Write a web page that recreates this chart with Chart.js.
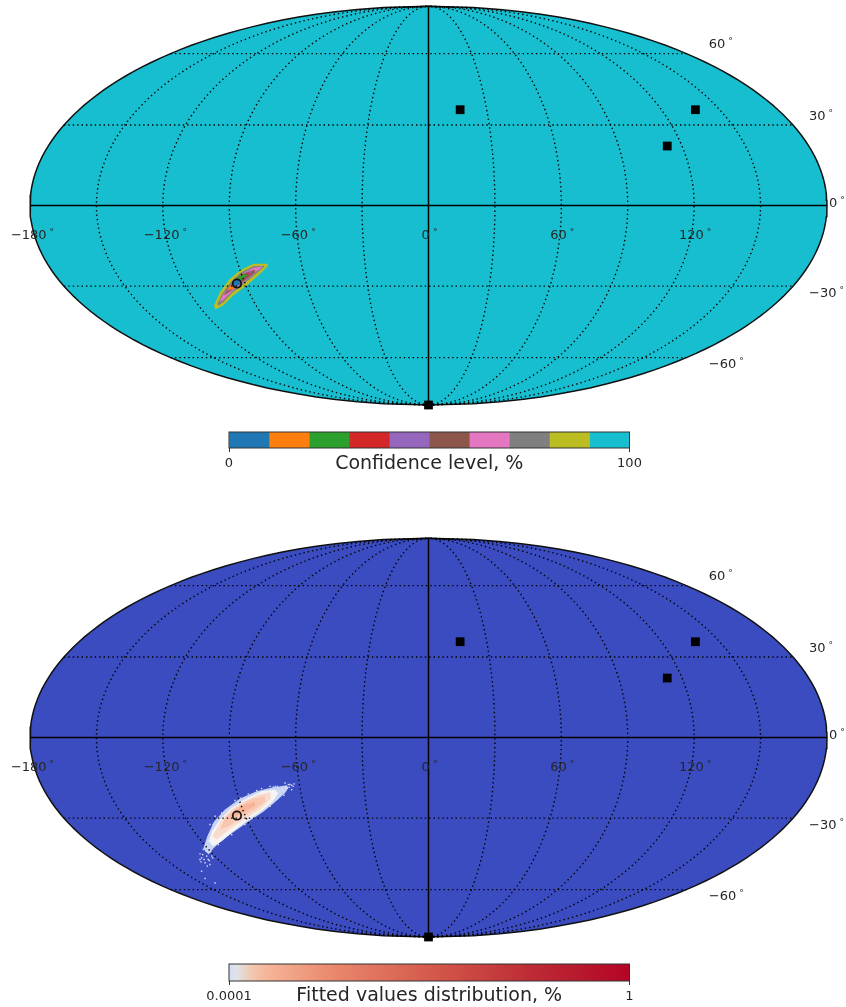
<!DOCTYPE html>
<html>
<head>
<meta charset="utf-8">
<title>Sky maps</title>
<script src="https://cdn.jsdelivr.net/npm/chart.js@4"></script>
<style>
  body { margin: 0; background: #fff; width: 846px; height: 1007px; overflow: hidden; position: relative; }
  canvas { position: absolute; left: 0; }
</style>
</head>
<body>
<canvas id="mapTop" width="846" height="425" style="top:0"></canvas>
<canvas id="barTop" width="846" height="50" style="top:425px"></canvas>
<canvas id="mapBottom" width="846" height="425" style="top:532px"></canvas>
<canvas id="barBottom" width="846" height="50" style="top:957px"></canvas>
<script>
const lonTicks = [-180, -120, -60, 0, 60, 120];
const latTicks = [60, 30, 0, -30, -60];
const gridLons = [-150, -120, -90, -60, -30, 30, 60, 90, 120, 150];
const gridLats = [60, 30, -30, -60];

// marked positions, lon / lat in degrees
const squareLons = [16.3, 137.5, 113, 0];
const squareLats = [36, 36, 22, -90];
const circleLons = [-94];
const circleLats = [-29];

const confidenceColors = ["#1f77b4", "#ff7f0e", "#2ca02c", "#d62728", "#9467bd", "#8c564b", "#e377c2", "#7f7f7f", "#bcbd22", "#17becf"];
const confidenceSteps = [10, 10, 10, 10, 10, 10, 10, 10, 10, 10];
const fittedStops = [0, 0.02, 0.05, 0.09, 0.25, 0.5, 0.75, 1];
const fittedStopColors = ["#d5e0f2", "#e0e2e8", "#eeccb8", "#f6b69a", "#ea8a6e", "#d55a4c", "#bd2c35", "#b40426"];

// contours, in projected map units [x, y]
const levelOlive = [[-72.6,-26.2],[-79.1,-26.2],[-85.1,-29.2],[-90.0,-33.4],[-94.2,-39.1],[-96.9,-45.1],[-96.3,-46.9],[-92.7,-45.1],[-88.2,-40.6],[-82.1,-36.1],[-76.4,-31.1],[-72.6,-27.4]];
const levelGray = [[-74.3,-27.1],[-79.1,-27.4],[-84.7,-30.2],[-89.1,-34.3],[-93.1,-39.7],[-95.4,-44.4],[-94.8,-45.1],[-92.7,-43.6],[-88.8,-39.4],[-82.9,-34.9],[-77.5,-30.4],[-74.0,-27.4]];
const levelPink = [[-75.2,-27.5],[-79.1,-28.0],[-84.2,-30.8],[-88.6,-34.9],[-92.7,-40.0],[-94.5,-43.6],[-92.8,-42.7],[-89.1,-39.0],[-83.2,-34.3],[-77.9,-29.9],[-75.0,-27.8]];
const levelBrown = [[-78.4,-28.9],[-82.9,-30.4],[-87.4,-33.4],[-91.2,-38.2],[-92.4,-40.6],[-88.9,-38.2],[-82.9,-33.7],[-78.4,-30.1]];
const levelPurple = [[-79.9,-29.2],[-83.6,-30.7],[-87.4,-33.7],[-90.7,-37.9],[-91.5,-39.4],[-88.9,-37.3],[-83.6,-33.1],[-79.9,-30.1]];
const levelRed = [[-80.9,-30.1],[-84.4,-31.1],[-87.9,-33.7],[-90.4,-37.9],[-88.9,-37.6],[-84.4,-33.7],[-80.9,-30.7]];
const levelOrange = [[-88.2,-34.9],[-90.4,-37.2],[-90.9,-38.2],[-88.2,-37.6],[-85.1,-34.9],[-85.9,-33.7]];
const levelGreen = [[-82.1,-30.7],[-85.1,-31.6],[-88.2,-34.1],[-89.4,-36.4],[-85.9,-34.9],[-82.1,-31.6]];
const levelBlue = [[-85.1,-33.4],[-87.4,-33.7],[-88.5,-35.2],[-87.4,-36.7],[-85.1,-35.6],[-84.4,-34.1]];

const fittedEdge = [[-64.0,-21.5],[-71.6,-22.7],[-77.6,-24.2],[-85.1,-27.5],[-91.9,-32.5],[-96.9,-38.0],[-99.9,-44.5],[-101.7,-50.1],[-99.4,-52.8],[-97.2,-50.1],[-93.4,-46.5],[-88.2,-42.7],[-81.4,-38.0],[-74.3,-33.2],[-69.8,-29.5],[-64.8,-25.0],[-63.3,-22.7]];
const fittedWhite = [[-69.3,-23.5],[-75.4,-24.2],[-82.9,-27.8],[-89.7,-32.3],[-94.2,-37.0],[-97.8,-42.3],[-99.3,-46.8],[-97.2,-49.0],[-93.4,-46.8],[-88.2,-42.3],[-81.8,-37.4],[-75.5,-33.2],[-70.4,-29.0],[-67.8,-25.0]];
const fittedPeach = [[-71.6,-24.5],[-77.6,-26.0],[-83.6,-29.0],[-90.0,-33.2],[-94.5,-38.5],[-97.5,-44.5],[-95.7,-46.0],[-88.9,-40.7],[-82.1,-36.2],[-75.8,-32.2],[-71.1,-27.5]];
const fittedSalmon = [[-73.8,-26.2],[-80.6,-28.0],[-86.7,-31.7],[-91.9,-36.2],[-94.2,-41.5],[-90.0,-40.0],[-84.4,-35.8],[-78.4,-32.5],[-73.8,-29.0]];
const fittedCore = [[-78.4,-29.0],[-83.6,-30.5],[-88.9,-34.0],[-90.4,-37.0],[-85.1,-34.4],[-78.4,-31.0]];
const fittedSpeckles = [[-103.2,-55.0],[-102.0,-52.8],[-100.9,-56.5],[-99.5,-55.0],[-100.5,-51.3],[-102.5,-60.3],[-96.4,-65.6],[-100.9,-63.6],[-98.7,-57.3],[-97.9,-53.5],[-62.6,-21.2],[-61.1,-22.0],[-64.1,-22.7],[-66.3,-23.5],[-68.3,-22.0],[-70.1,-22.4],[-73.8,-23.9],[-64.8,-20.5],[-61.8,-23.5],[-67.1,-25.7],[-80.9,-27.2],[-88.9,-31.7],[-97.2,-39.2],[-99.5,-46.8],[-101.7,-50.5],[-93.4,-34.0],[-77.6,-23.9],[-85.1,-27.2],[-102.5,-54.3],[-100.2,-53.5],[-99.0,-55.5],[-101.4,-55.0],[-102.8,-56.1],[-99.9,-58.0],[-97.5,-54.3],[-103.2,-52.5],[-98.4,-51.6],[-62.9,-22.4],[-65.6,-23.9],[-67.4,-24.2],[-63.3,-21.2],[-60.7,-20.9],[-69.3,-22.0],[-71.6,-22.0],[-75.4,-23.0],[-61.8,-21.5],[-65.3,-26.0],[-68.3,-27.5],[-71.6,-31.0],[-76.9,-34.4],[-82.9,-39.2],[-88.9,-43.8],[-94.9,-48.3],[-98.7,-39.2],[-96.4,-35.5],[-87.4,-28.4],[-81.4,-25.4]];

function mollweide(lon, lat) {
  const phi = (lat * Math.PI) / 180;
  let theta = phi;
  if (Math.abs(lat) !== 90) {
    for (let i = 0; i < 30; i++) {
      theta -= (2 * theta + Math.sin(2 * theta) - Math.PI * Math.sin(phi)) / (2 + 2 * Math.cos(2 * theta));
    }
  }
  return { x: lon * Math.cos(theta), y: 90 * Math.sin(theta) };
}

function meridian(lon) {
  const pts = [];
  for (let lat = -90; lat <= 90; lat += 2) pts.push(mollweide(lon, lat));
  return pts;
}

function parallel(lat) {
  return [mollweide(-180, lat), mollweide(180, lat)];
}

function outline() {
  return meridian(180).concat(meridian(-180).reverse());
}

function polygon(points, color) {
  return {
    data: points.map((p) => ({ x: p[0], y: p[1] })),
    showLine: true,
    fill: "shape",
    backgroundColor: color,
    borderWidth: 0,
    pointRadius: 0,
    clip: false,
  };
}

function gridLine(points, solid) {
  return {
    data: points,
    showLine: true,
    fill: false,
    borderColor: "#000",
    borderWidth: solid ? 1.5 : 1.4,
    borderDash: solid ? [] : [1.4, 3],
    pointRadius: 0,
    clip: false,
  };
}

function markers(lons, lats, style) {
  return Object.assign(
    { data: lons.map((lon, i) => mollweide(lon, lats[i])), showLine: false, clip: false },
    style
  );
}

function mapDatasets(fillColor, blobs) {
  const sets = [];
  sets.push({
    data: outline(),
    showLine: true,
    fill: "shape",
    backgroundColor: fillColor,
    borderColor: "#111",
    borderWidth: 1.5,
    pointRadius: 0,
    clip: false,
  });
  blobs.forEach((b) => sets.push(b));
  gridLons.forEach((lon) => sets.push(gridLine(meridian(lon), false)));
  gridLats.forEach((lat) => sets.push(gridLine(parallel(lat), false)));
  sets.push(gridLine(meridian(0), true));
  sets.push(gridLine(parallel(0), true));
  sets.push(markers(squareLons, squareLats, {
    pointStyle: "rect", pointRadius: 6.2, pointBackgroundColor: "#000", pointBorderWidth: 0,
  }));
  sets.push(markers(circleLons, circleLats, {
    pointStyle: "circle", pointRadius: 4.2, pointBackgroundColor: "rgba(0,0,0,0)", pointBorderColor: "#111", pointBorderWidth: 1.7,
  }));
  // first dataset is painted last in Chart.js
  return sets.reverse();
}

function degreeLabel(ctx, text, x, y, centered) {
  ctx.font = "13px 'DejaVu Sans'";
  const w = ctx.measureText(text).width;
  ctx.font = "9px 'DejaVu Sans'";
  const dw = ctx.measureText("°").width;
  const left = centered ? x - (w + 3 + dw) / 2 : x;
  ctx.textAlign = "left";
  ctx.textBaseline = "middle";
  ctx.font = "13px 'DejaVu Sans'";
  ctx.fillText(text, left, y);
  ctx.font = "9px 'DejaVu Sans'";
  ctx.fillText("°", left + w + 3, y - 3);
}

function labelText(v) {
  return v < 0 ? "\u2212" + Math.abs(v) : String(v);
}

const degreeLabels = {
  id: "degreeLabels",
  afterDraw(chart) {
    const { ctx, scales } = chart;
    ctx.save();
    ctx.fillStyle = "#262626";
    lonTicks.forEach((lon) => {
      const dx = lon < 0 ? 2.5 : 1;
      degreeLabel(ctx, labelText(lon), scales.x.getPixelForValue(lon) + dx, scales.y.getPixelForValue(0) + 30, true);
    });
    latTicks.forEach((lat) => {
      const p = mollweide(180, lat);
      const abs = Math.abs(lat);
      const dx = abs === 60 ? 22.4 : abs === 30 ? 16 : 2;
      const dy = lat > 0 ? -8.5 : lat < 0 ? 7.5 : -2;
      degreeLabel(ctx, labelText(lat), scales.x.getPixelForValue(p.x) + dx, scales.y.getPixelForValue(p.y) + dy, false);
    });
    ctx.restore();
  },
};

function drawMap(id, datasets) {
  new Chart(document.getElementById(id), {
    type: "scatter",
    data: { datasets: datasets },
    options: {
      responsive: false,
      animation: false,
      devicePixelRatio: 1,
      layout: { padding: { left: 30, right: 19, top: 6, bottom: 20 } },
      plugins: { legend: { display: false }, tooltip: { enabled: false } },
      scales: {
        x: { type: "linear", min: -180, max: 180, display: false },
        y: { type: "linear", min: -90, max: 90, display: false },
      },
    },
    plugins: [degreeLabels],
  });
}

const barFrame = {
  id: "barFrame",
  afterDraw(chart) {
    const a = chart.chartArea;
    const c = chart.ctx;
    c.save();
    c.strokeStyle = "#333";
    c.lineWidth = 1;
    c.strokeRect(a.left, a.top, a.right - a.left, a.bottom - a.top);
    c.restore();
  },
};

function barOptions(xScale, title, tickValues, axisHeight) {
  return {
    indexAxis: "y",
    responsive: false,
    animation: false,
    devicePixelRatio: 1,
    layout: { padding: { left: 229, right: 216.5, top: 7, bottom: 0 } },
    plugins: { legend: { display: false }, tooltip: { enabled: false } },
    scales: {
      x: Object.assign(xScale, {
        afterBuildTicks: (s) => { s.ticks = tickValues.map((v) => ({ value: v })); },
        afterFit: (s) => { s.height = axisHeight; },
        border: { display: false },
        grid: { drawOnChartArea: false, color: "#333", tickLength: 4 },
        ticks: {
          autoSkip: false,
          maxRotation: 0,
          padding: 4,
          color: "#262626",
          font: { family: "DejaVu Sans", size: 13 },
          callback: (v) => String(v),
        },
        title: {
          display: true,
          text: title,
          color: "#262626",
          padding: 0,
          font: { family: "DejaVu Sans", size: 19 },
        },
      }),
      y: { display: false, stacked: xScale.stacked === true },
    },
  };
}

drawMap("mapTop", mapDatasets("#17becf", [
  polygon(levelOlive, confidenceColors[8]),
  polygon(levelGray, confidenceColors[7]),
  polygon(levelPink, confidenceColors[6]),
  polygon(levelBrown, confidenceColors[5]),
  polygon(levelPurple, confidenceColors[4]),
  polygon(levelRed, confidenceColors[3]),
  polygon(levelOrange, confidenceColors[1]),
  polygon(levelGreen, confidenceColors[2]),
  polygon(levelBlue, confidenceColors[0]),
]));

const speckleSet = {
  data: fittedSpeckles.map((p) => ({ x: p[0], y: p[1] })),
  showLine: false,
  pointStyle: "rect",
  pointRadius: 1,
  pointBorderWidth: 0,
  pointBackgroundColor: "#d8e1f7",
  clip: false,
};

drawMap("mapBottom", mapDatasets("#3a4cc0", [
  polygon(fittedEdge, "#c9d5f4"),
  speckleSet,
  polygon(fittedWhite, "#f6f3f3"),
  polygon(fittedPeach, "#f9dccd"),
  polygon(fittedSalmon, "#f9c6af"),
  polygon(fittedCore, "#f7b498"),
]));

new Chart(document.getElementById("barTop"), {
  type: "bar",
  data: {
    labels: [""],
    datasets: confidenceSteps.map((v, i) => ({
      data: [v],
      backgroundColor: confidenceColors[i],
      barPercentage: 1,
      categoryPercentage: 1,
    })),
  },
  options: barOptions({ type: "linear", min: 0, max: 100, stacked: true }, "Confidence level, %", [0, 100], 27),
  plugins: [barFrame],
});

new Chart(document.getElementById("barBottom"), {
  type: "bar",
  data: {
    labels: [""],
    datasets: [{
      data: [[0.0001, 1]],
      barPercentage: 1,
      categoryPercentage: 1,
      backgroundColor: (c) => {
        const area = c.chart.chartArea;
        if (!area) return fittedStopColors[0];
        const g = c.chart.ctx.createLinearGradient(area.left, 0, area.right, 0);
        fittedStops.forEach((s, i) => g.addColorStop(s, fittedStopColors[i]));
        return g;
      },
    }],
  },
  options: barOptions({ type: "logarithmic", min: 0.0001, max: 1 }, "Fitted values distribution, %", [0.0001, 1], 26),
  plugins: [barFrame],
});
</script>
</body>
</html>
